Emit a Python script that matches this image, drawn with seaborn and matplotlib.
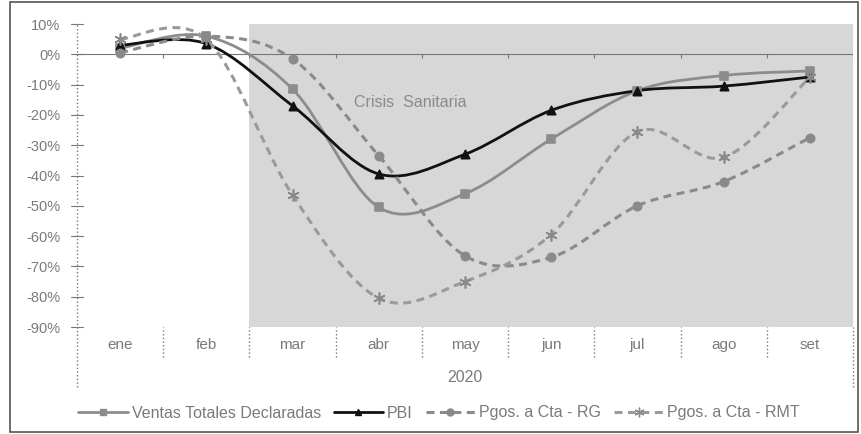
import numpy as np
import matplotlib
matplotlib.use("Agg")
import matplotlib.pyplot as plt
from matplotlib.path import Path
from matplotlib.patches import PathPatch, Rectangle
from matplotlib.lines import Line2D
import pandas as pd
import seaborn as sns

# monthly variation (%)
meses = ["ene", "feb", "mar", "abr", "may", "jun", "jul", "ago", "set"]
ventas = [2, 6, -11.5, -50.5, -46, -28, -12, -7, -5.5]
pbi = [3, 3.5, -17, -39.5, -33, -18.5, -12, -10.5, -7.5]
pagos_rg = [0.5, 6, -1.5, -33.5, -66.5, -67, -50, -42, -27.5]
pagos_rmt = [5, 5, -46.5, -80.5, -75, -59.5, -25.5, -34, -7.5]
year_label = "2020"
y_ticks = list(range(10, -91, -10))

series = {
    "Ventas Totales Declaradas": ventas,
    "PBI": pbi,
    "Pgos. a Cta - RG": pagos_rg,
    "Pgos. a Cta - RMT": pagos_rmt,
}
df = pd.DataFrame(
    [(m, i, name, v) for name, vals in series.items() for i, (m, v) in enumerate(zip(meses, vals))],
    columns=["mes", "pos", "serie", "valor"],
)

styles = {
    "Ventas Totales Declaradas": dict(color="#8c8c8c", lw=2.0, ls="-", marker="s", ms=6, mc="#8c8c8c"),
    "PBI": dict(color="#111111", lw=2.0, ls="-", marker="^", ms=6, mc="#111111"),
    "Pgos. a Cta - RG": dict(color="#8a8a8a", lw=2.2, ls=(0, (2.6, 1.8)), marker="o", ms=6, mc="#8a8a8a"),
    "Pgos. a Cta - RMT": dict(color="#9a9a9a", lw=2.2, ls=(0, (2.6, 1.8)), marker=(6, 2, 0), ms=8, mc="#8a8a8a"),
}


def smooth_path(xs, ys):
    # excel-like smoothed line: cubic bezier through the points
    pts = np.column_stack([xs, ys]).astype(float)
    verts = [pts[0]]
    codes = [Path.MOVETO]
    n = len(pts)
    for i in range(n - 1):
        p0 = pts[i - 1] if i > 0 else pts[i]
        p1 = pts[i]
        p2 = pts[i + 1]
        p3 = pts[i + 2] if i + 2 < n else pts[i + 1]
        c1 = p1 + (p2 - p0) / 6.0
        c2 = p2 - (p3 - p1) / 6.0
        verts += [c1, c2, p2]
        codes += [Path.CURVE4] * 3
    return Path(verts, codes)


sns.set_theme(style="white")
plt.rcParams["font.family"] = ["Liberation Sans", "DejaVu Sans"]
grey_txt = "#7a7a7a"

fig = plt.figure(figsize=(8.61, 4.34), dpi=100)
ax = fig.add_axes([77 / 861, 107 / 434, 776 / 861, 303 / 434])
ax.set_xlim(-0.5, 8.5)
ax.set_ylim(-90, 10)

# shaded "Crisis Sanitaria" period
ax.axvspan(1.5, 8.5, color="#d7d7d7", zorder=0, lw=0)
ax.text(3.37, -16, "Crisis  Sanitaria", color="#8a8a8a", fontsize=11.5,
        ha="center", va="center", zorder=1)

# zero line with small ticks at category boundaries
ax.axhline(0, color="#777777", lw=0.8, zorder=1)
ax.vlines(np.arange(0.5, 9, 1), -1.3, 0, color="#777777", lw=0.8, zorder=1)

for name, st in styles.items():
    sub = df[df.serie == name]
    ax.add_patch(PathPatch(smooth_path(sub.pos, sub.valor), fill=False,
                           edgecolor=st["color"], lw=st["lw"], ls=st["ls"],
                           capstyle="butt", zorder=3))
    sns.scatterplot(x="pos", y="valor", data=sub, ax=ax, marker=st["marker"],
                    s=st["ms"] ** 2, color=st["mc"], edgecolor=st["mc"],
                    linewidth=1.2, legend=False, zorder=4)

for s in ax.spines.values():
    s.set_visible(False)

ax.set_xlabel("")
ax.set_ylabel("")
ax.set_xticks(range(len(meses)))
ax.set_xticklabels(meses, color=grey_txt, fontsize=11)
ax.tick_params(axis="x", length=0, pad=8)
ax.set_yticks(y_ticks)
ax.set_yticklabels([f"{t}%" for t in y_ticks], color=grey_txt, fontsize=10.5)
ax.tick_params(axis="y", length=0, pad=12)

# dotted y axis line and category separators below the plot
below1 = -30 / 303
below2 = -60 / 303
ax.plot([0, 0], [below2, 1], transform=ax.transAxes, color="#777777", lw=1,
        ls=":", clip_on=False, zorder=5)
ax.plot([1, 1], [below2, 0], transform=ax.transAxes, color="#777777", lw=1,
        ls=":", clip_on=False, zorder=5)
for b in np.arange(0.5, 8, 1):
    xf = (b + 0.5) / 9
    ax.plot([xf, xf], [below1, 0], transform=ax.transAxes, color="#777777",
            lw=1, ls=":", clip_on=False)
for t in y_ticks:
    ax.plot([-0.5 - 0.07, -0.5 + 0.07], [t, t], color="#777777", lw=0.8,
            clip_on=False, zorder=5)

ax.text(0.5, -50 / 303, year_label, transform=ax.transAxes, ha="center",
        va="center", color=grey_txt, fontsize=11.5)

handles = [Line2D([], [], color=st["color"], lw=st["lw"], ls=st["ls"],
                  marker=st["marker"], ms=st["ms"] - 1, mfc=st["mc"], mec=st["mc"])
           for st in styles.values()]
leg = fig.legend(handles, list(styles.keys()), loc="center", ncol=4,
                 bbox_to_anchor=(0.51, 21 / 434), frameon=False, fontsize=11.5,
                 handlelength=3.1, handletextpad=0.25, columnspacing=0.8)
for t in leg.get_texts():
    t.set_color(grey_txt)

# outer chart border
fig.add_artist(Rectangle((10 / 861, 2 / 434), 848 / 861, 430 / 434,
                         transform=fig.transFigure, fill=False,
                         edgecolor="#555555", lw=1.2))

fig.savefig("out.png", dpi=100)
